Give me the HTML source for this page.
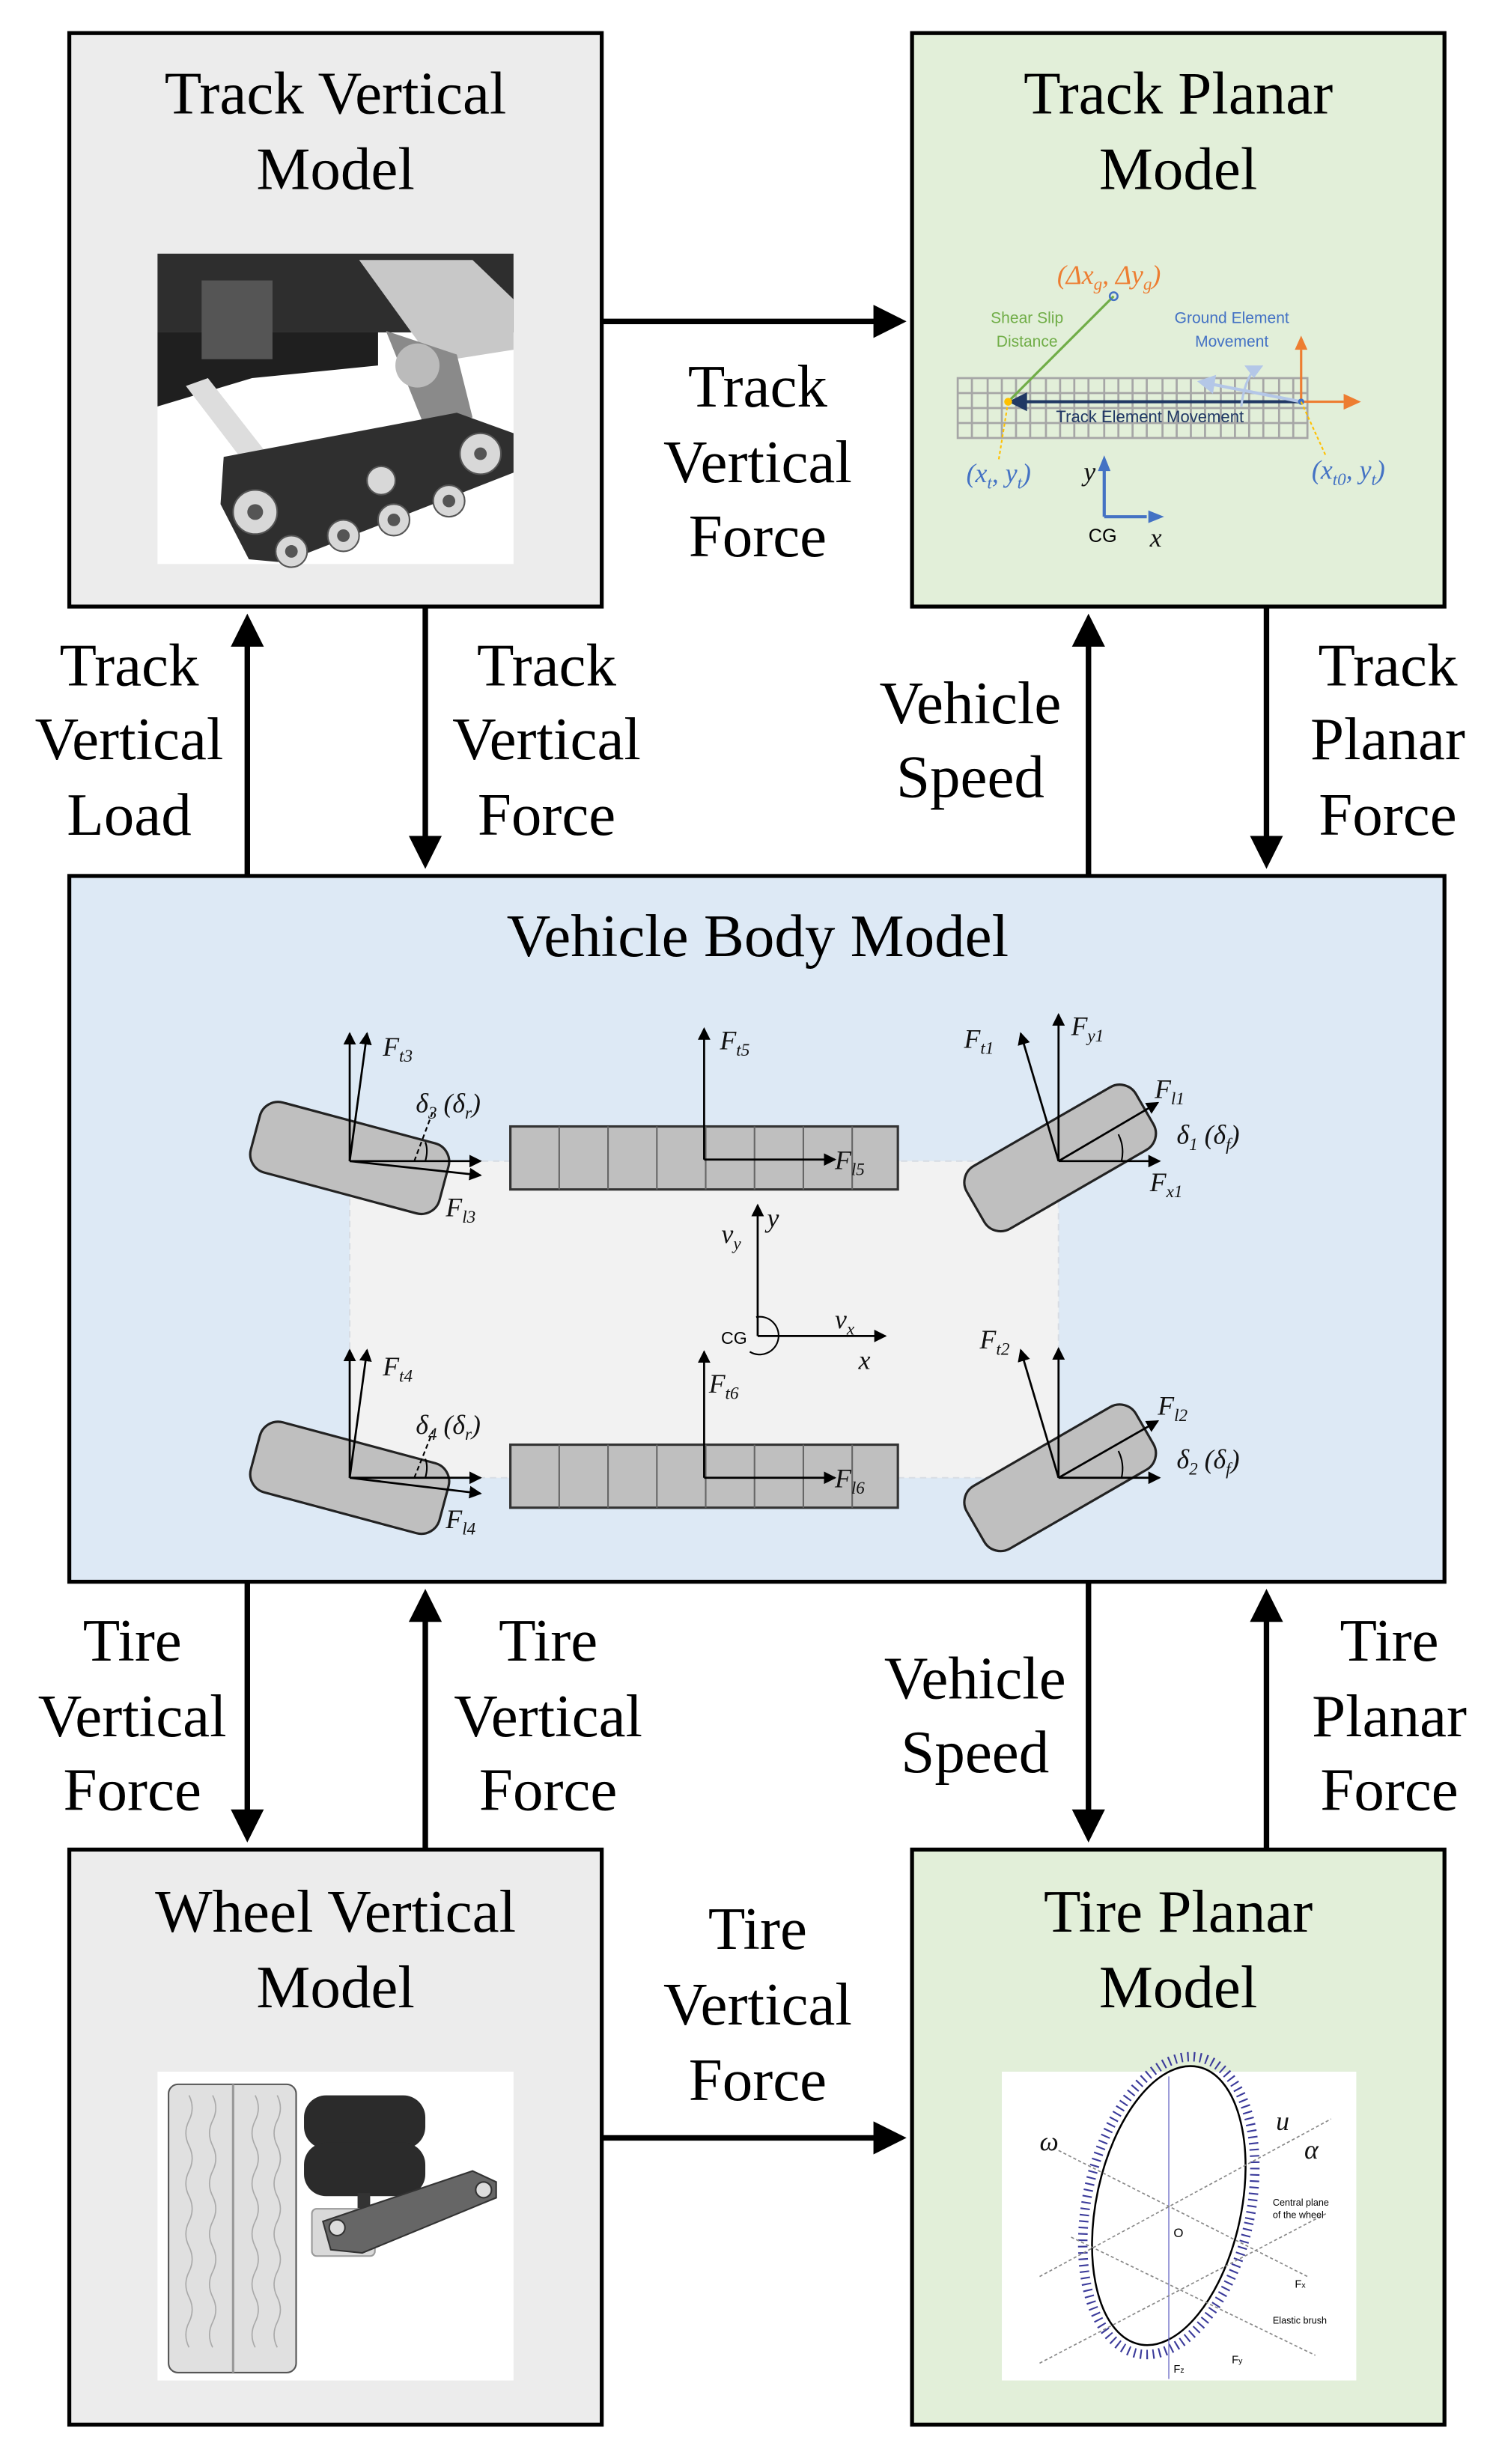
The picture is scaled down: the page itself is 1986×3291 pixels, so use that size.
<!DOCTYPE html>
<html><head><meta charset="utf-8"><style>
html,body{margin:0;padding:0;background:#fff;}
svg{display:block;}
.t{font-family:"Liberation Serif",serif;font-size:38.5px;text-anchor:middle;fill:#000;}
.m{font-family:"Liberation Serif",serif;font-style:italic;font-size:17px;fill:#111;}
.s{font-family:"Liberation Sans",sans-serif;}
</style></head><body>
<svg width="1986" height="3291" viewBox="0 0 944 1564" preserveAspectRatio="none" xmlns="http://www.w3.org/2000/svg">
<defs>
<marker id="ah" markerWidth="6" markerHeight="6" refX="5" refY="3" orient="auto" markerUnits="strokeWidth"><path d="M0,0 L6,3 L0,6 z" fill="#000"/></marker>
<marker id="sa" markerWidth="8" markerHeight="8" refX="7" refY="4" orient="auto" markerUnits="userSpaceOnUse"><path d="M0,0 L8,4 L0,8 z" fill="#000"/></marker>
</defs>
<rect width="944" height="1564" fill="#fff"/>
<rect x="44" y="21" width="338" height="364" fill="#ececec" stroke="#000" stroke-width="2.5"/>
<rect x="579" y="21" width="338" height="364" fill="#e2efd9" stroke="#000" stroke-width="2.5"/>
<rect x="44" y="556" width="873" height="448" fill="#dde9f5" stroke="#000" stroke-width="2.5"/>
<rect x="44" y="1174" width="338" height="365" fill="#ececec" stroke="#000" stroke-width="2.5"/>
<rect x="579" y="1174" width="338" height="365" fill="#e2efd9" stroke="#000" stroke-width="2.5"/>

<text class="t" x="213" y="72">Track Vertical</text><text class="t" x="213" y="120">Model</text>
<text class="t" x="748" y="72">Track Planar</text><text class="t" x="748" y="120">Model</text>
<text class="t" x="481" y="607">Vehicle Body Model</text>
<text class="t" x="213" y="1226">Wheel Vertical</text><text class="t" x="213" y="1274">Model</text>
<text class="t" x="748" y="1226">Tire Planar</text><text class="t" x="748" y="1274">Model</text>

<g stroke="#000" stroke-width="3.5" fill="none" marker-end="url(#ah)">
<line x1="383" y1="204" x2="572" y2="204"/>
<line x1="383" y1="1357" x2="572" y2="1357"/>
<line x1="157" y1="555" x2="157" y2="393"/>
<line x1="270" y1="386" x2="270" y2="548"/>
<line x1="691" y1="555" x2="691" y2="393"/>
<line x1="804" y1="386" x2="804" y2="548"/>
<line x1="157" y1="1005" x2="157" y2="1166"/>
<line x1="270" y1="1173" x2="270" y2="1012"/>
<line x1="691" y1="1005" x2="691" y2="1166"/>
<line x1="804" y1="1173" x2="804" y2="1012"/>
</g>
<g>
<text class="t" x="481" y="258">Track</text><text class="t" x="481" y="306">Vertical</text><text class="t" x="481" y="353">Force</text>
<text class="t" x="82" y="435">Track</text><text class="t" x="82" y="482">Vertical</text><text class="t" x="82" y="530">Load</text>
<text class="t" x="347" y="435">Track</text><text class="t" x="347" y="482">Vertical</text><text class="t" x="347" y="530">Force</text>
<text class="t" x="616" y="459">Vehicle</text><text class="t" x="616" y="506">Speed</text>
<text class="t" x="881" y="435">Track</text><text class="t" x="881" y="482">Planar</text><text class="t" x="881" y="530">Force</text>
<text class="t" x="84" y="1054">Tire</text><text class="t" x="84" y="1102">Vertical</text><text class="t" x="84" y="1149">Force</text>
<text class="t" x="348" y="1054">Tire</text><text class="t" x="348" y="1102">Vertical</text><text class="t" x="348" y="1149">Force</text>
<text class="t" x="619" y="1078">Vehicle</text><text class="t" x="619" y="1125">Speed</text>
<text class="t" x="882" y="1054">Tire</text><text class="t" x="882" y="1102">Planar</text><text class="t" x="882" y="1149">Force</text>
<text class="t" x="481" y="1237">Tire</text><text class="t" x="481" y="1285">Vertical</text><text class="t" x="481" y="1333">Force</text>
</g>

<!-- Track vertical image -->
<rect x="100" y="161" width="226" height="197" fill="#fff"/>
<rect x="100" y="161" width="226" height="50" fill="#2e2e2e"/>
<polygon points="100,211 240,211 240,232 160,240 100,258" fill="#1f1f1f"/>
<rect x="128" y="178" width="45" height="50" fill="#555"/>
<polygon points="228,165 300,165 326,190 326,222 275,230" fill="#c8c8c8"/>
<polygon points="245,210 290,225 300,265 270,272" fill="#8a8a8a"/>
<circle cx="265" cy="232" r="14" fill="#bbb"/>
<polygon points="118,245 132,240 175,295 160,300" fill="#ddd"/>
<polygon points="142,290 290,262 326,275 326,300 180,357 158,355 140,320" fill="#2f2f2f"/>
<g fill="#d8d8d8" stroke="#555" stroke-width="1">
<circle cx="162" cy="325" r="14"/><circle cx="185" cy="350" r="10"/><circle cx="218" cy="340" r="10"/><circle cx="250" cy="330" r="10"/><circle cx="285" cy="318" r="10"/><circle cx="305" cy="288" r="13"/><circle cx="242" cy="305" r="9"/>
</g>
<g fill="#555"><circle cx="162" cy="325" r="5"/><circle cx="185" cy="350" r="4"/><circle cx="218" cy="340" r="4"/><circle cx="250" cy="330" r="4"/><circle cx="285" cy="318" r="4"/><circle cx="305" cy="288" r="4"/></g>

<!-- Track planar diagram -->
<g stroke="#a6a6a6" stroke-width="1.3" fill="none">
<rect x="608" y="240" width="222" height="38"/>
<line x1="608" y1="249.5" x2="830" y2="249.5"/><line x1="608" y1="259" x2="830" y2="259"/><line x1="608" y1="268.5" x2="830" y2="268.5"/>
<path d="M617,240V278M627,240V278M636,240V278M645,240V278M654,240V278M664,240V278M673,240V278M682,240V278M691,240V278M701,240V278M710,240V278M719,240V278M728,240V278M738,240V278M747,240V278M756,240V278M765,240V278M775,240V278M784,240V278M793,240V278M802,240V278M812,240V278M821,240V278"/>
</g>
<line x1="707" y1="188" x2="640" y2="255" stroke="#70ad47" stroke-width="1.5"/>
<circle cx="707" cy="188" r="2.5" fill="none" stroke="#4472c4" stroke-width="1.2"/>
<line x1="826" y1="255" x2="650" y2="255" stroke="#203864" stroke-width="2"/>
<polygon points="640,255 652,249 652,261" fill="#203864"/>
<line x1="826" y1="255" x2="770" y2="244" stroke="#b4c7e7" stroke-width="2"/>
<polygon points="760,242 772,238 770,250" fill="#b4c7e7"/>
<path d="M788,258 Q790,242 796,235" stroke="#b4c7e7" stroke-width="1.5" fill="none"/>
<polygon points="790,232 802,232 796,240" fill="#b4c7e7"/>
<line x1="826" y1="255" x2="826" y2="222" stroke="#ed7d31" stroke-width="1.5"/>
<polygon points="826,213 822,222 830,222" fill="#ed7d31"/>
<line x1="826" y1="255" x2="853" y2="255" stroke="#ed7d31" stroke-width="1.5"/>
<polygon points="864,255 853,250 853,260" fill="#ed7d31"/>
<circle cx="640" cy="255" r="2.5" fill="#ffc000"/><circle cx="826" cy="255" r="2" fill="#4472c4"/>
<line x1="640" y1="255" x2="634" y2="292" stroke="#ffc000" stroke-dasharray="2,1.5"/>
<line x1="826" y1="255" x2="842" y2="290" stroke="#ffc000" stroke-dasharray="2,1.5"/>
<text x="704" y="180" text-anchor="middle" class="m" style="fill:#ed7d31">(Δx<tspan font-size="11" dy="4">g</tspan><tspan dy="-4">, Δy</tspan><tspan font-size="11" dy="4">g</tspan><tspan dy="-4">)</tspan></text>
<text x="652" y="205" text-anchor="middle" class="s" font-size="10" fill="#70ad47">Shear Slip</text>
<text x="652" y="220" text-anchor="middle" class="s" font-size="10" fill="#70ad47">Distance</text>
<text x="782" y="205" text-anchor="middle" class="s" font-size="10" fill="#4472c4">Ground Element</text>
<text x="782" y="220" text-anchor="middle" class="s" font-size="10" fill="#4472c4">Movement</text>
<text x="730" y="268" text-anchor="middle" class="s" font-size="10.5" fill="#203864">Track Element Movement</text>
<text x="634" y="306" text-anchor="middle" class="m" style="fill:#4472c4">(x<tspan font-size="11" dy="4">t</tspan><tspan dy="-4">, y</tspan><tspan font-size="11" dy="4">t</tspan><tspan dy="-4">)</tspan></text>
<text x="856" y="304" text-anchor="middle" class="m" style="fill:#4472c4">(x<tspan font-size="11" dy="4">t0</tspan><tspan dy="-4">, y</tspan><tspan font-size="11" dy="4">t</tspan><tspan dy="-4">)</tspan></text>
<path d="M701,328 V298 M701,328 H728" stroke="#4472c4" stroke-width="2" fill="none"/>
<polygon points="701,289 697,299 705,299" fill="#4472c4"/><polygon points="739,328 729,324 729,332" fill="#4472c4"/>
<text x="688" y="305" class="m">y</text>
<text x="700" y="344" text-anchor="middle" class="s" font-size="12">CG</text>
<text x="730" y="347" class="m">x</text>

<!-- Vehicle body diagram -->
<rect x="222" y="737" width="450" height="201" fill="#f2f2f2" stroke="#d8dde4" stroke-dasharray="4,3"/>
<g fill="#bfbfbf" stroke="#333" stroke-width="1.5">
<rect x="324" y="715" width="246" height="40"/><rect x="324" y="917" width="246" height="40"/>
</g>
<path d="M355,715V755M386,715V755M417,715V755M448,715V755M479,715V755M510,715V755M541,715V755M355,917V957M386,917V957M417,917V957M448,917V957M479,917V957M510,917V957M541,917V957" stroke="#666" stroke-width="1"/>
<g fill="#bfbfbf" stroke="#222" stroke-width="1.5">
<rect x="-62" y="-23" width="124" height="46" rx="12" transform="translate(222,735) rotate(15)"/>
<rect x="-62" y="-23" width="124" height="46" rx="12" transform="translate(222,938) rotate(15)"/>
<rect x="-62" y="-23" width="124" height="46" rx="12" transform="translate(673,735) rotate(-30)"/>
<rect x="-62" y="-23" width="124" height="46" rx="12" transform="translate(673,938) rotate(-30)"/>
</g>
<g stroke="#000" stroke-width="1.3" fill="none" marker-end="url(#sa)">
<line x1="222" y1="737" x2="222" y2="656"/><line x1="222" y1="737" x2="233" y2="656"/>
<line x1="222" y1="737" x2="305" y2="737"/><line x1="222" y1="737" x2="305" y2="746"/>
<line x1="222" y1="938" x2="222" y2="857"/><line x1="222" y1="938" x2="233" y2="857"/>
<line x1="222" y1="938" x2="305" y2="938"/><line x1="222" y1="938" x2="305" y2="948"/>
<line x1="447" y1="736" x2="447" y2="653"/><line x1="447" y1="736" x2="530" y2="736"/>
<line x1="447" y1="938" x2="447" y2="858"/><line x1="447" y1="938" x2="530" y2="938"/>
<line x1="672" y1="737" x2="672" y2="644"/><line x1="672" y1="737" x2="648" y2="656"/>
<line x1="672" y1="737" x2="736" y2="737"/><line x1="672" y1="737" x2="735" y2="700"/>
<line x1="672" y1="938" x2="672" y2="856"/><line x1="672" y1="938" x2="648" y2="857"/>
<line x1="672" y1="938" x2="736" y2="938"/><line x1="672" y1="938" x2="735" y2="902"/>
<line x1="481" y1="848" x2="481" y2="765"/><line x1="481" y1="848" x2="562" y2="848"/>
</g>
<g stroke="#000" stroke-width="1" fill="none">
<path d="M270,737 Q272,730 270,725"/><path d="M270,938 Q272,931 270,926"/>
<path d="M712,737 Q714,728 710,720"/><path d="M712,938 Q714,929 710,921"/>
<line x1="263" y1="737" x2="275" y2="705" stroke-dasharray="3,2"/>
<line x1="263" y1="938" x2="275" y2="908" stroke-dasharray="3,2"/>
<path d="M480,836 A12,12 0 1 1 476,858"/>
</g>
<g class="m">
<text x="243" y="670">F<tspan font-size="11" dy="4">t3</tspan></text>
<text x="283" y="772">F<tspan font-size="11" dy="4">l3</tspan></text>
<text x="264" y="706">δ<tspan font-size="11" dy="4">3</tspan><tspan dy="-4"> (δ</tspan><tspan font-size="11" dy="4">r</tspan><tspan dy="-4">)</tspan></text>
<text x="457" y="666">F<tspan font-size="11" dy="4">t5</tspan></text>
<text x="530" y="742">F<tspan font-size="11" dy="4">l5</tspan></text>
<text x="612" y="665">F<tspan font-size="11" dy="4">t1</tspan></text>
<text x="680" y="657">F<tspan font-size="11" dy="4">y1</tspan></text>
<text x="733" y="697">F<tspan font-size="11" dy="4">l1</tspan></text>
<text x="747" y="726">δ<tspan font-size="11" dy="4">1</tspan><tspan dy="-4"> (δ</tspan><tspan font-size="11" dy="4">f</tspan><tspan dy="-4">)</tspan></text>
<text x="730" y="756">F<tspan font-size="11" dy="4">x1</tspan></text>
<text x="487" y="779">y</text>
<text x="458" y="789">v<tspan font-size="11" dy="4">y</tspan></text>
<text x="530" y="843">v<tspan font-size="11" dy="4">x</tspan></text>
<text x="545" y="869">x</text>
<text x="243" y="873">F<tspan font-size="11" dy="4">t4</tspan></text>
<text x="264" y="910">δ<tspan font-size="11" dy="4">4</tspan><tspan dy="-4"> (δ</tspan><tspan font-size="11" dy="4">r</tspan><tspan dy="-4">)</tspan></text>
<text x="283" y="970">F<tspan font-size="11" dy="4">l4</tspan></text>
<text x="450" y="884">F<tspan font-size="11" dy="4">t6</tspan></text>
<text x="530" y="944">F<tspan font-size="11" dy="4">l6</tspan></text>
<text x="622" y="856">F<tspan font-size="11" dy="4">t2</tspan></text>
<text x="735" y="898">F<tspan font-size="11" dy="4">l2</tspan></text>
<text x="747" y="932">δ<tspan font-size="11" dy="4">2</tspan><tspan dy="-4"> (δ</tspan><tspan font-size="11" dy="4">f</tspan><tspan dy="-4">)</tspan></text>
</g>
<text x="466" y="853" text-anchor="middle" class="s" font-size="11">CG</text>

<!-- Wheel vertical image -->
<rect x="100" y="1315" width="226" height="196" fill="#fff"/>
<rect x="107" y="1323" width="81" height="183" rx="6" fill="#e0e0e0" stroke="#555" stroke-width="1"/>
<line x1="148" y1="1323" x2="148" y2="1506" stroke="#999" stroke-width="1.5"/>
<path d="M120,1330 q4,8 0,16 q-4,8 0,16 q4,8 0,16 q-4,8 0,16 q4,8 0,16 q-4,8 0,16 q4,8 0,16 q-4,8 0,16 q4,8 0,16 q-4,8 0,16 M135,1330 q4,8 0,16 q-4,8 0,16 q4,8 0,16 q-4,8 0,16 q4,8 0,16 q-4,8 0,16 q4,8 0,16 q-4,8 0,16 q4,8 0,16 q-4,8 0,16 M162,1330 q4,8 0,16 q-4,8 0,16 q4,8 0,16 q-4,8 0,16 q4,8 0,16 q-4,8 0,16 q4,8 0,16 q-4,8 0,16 q4,8 0,16 q-4,8 0,16 M176,1330 q4,8 0,16 q-4,8 0,16 q4,8 0,16 q-4,8 0,16 q4,8 0,16 q-4,8 0,16 q4,8 0,16 q-4,8 0,16 q4,8 0,16 q-4,8 0,16" stroke="#aaa" stroke-width="0.8" fill="none"/>
<rect x="193" y="1330" width="77" height="34" rx="14" fill="#2b2b2b"/>
<rect x="193" y="1360" width="77" height="34" rx="14" fill="#2b2b2b"/>
<rect x="227" y="1392" width="8" height="14" fill="#333"/>
<rect x="198" y="1402" width="40" height="30" rx="3" fill="#d9d9d9" stroke="#999"/>
<polygon points="205,1410 300,1378 315,1385 315,1395 230,1430 210,1428" fill="#666" stroke="#333"/>
<circle cx="214" cy="1414" r="5" fill="#ddd" stroke="#333"/><circle cx="307" cy="1390" r="5" fill="#ddd" stroke="#333"/>

<!-- Tire planar image -->
<rect x="636" y="1315" width="225" height="196" fill="#fff"/>
<g transform="translate(742,1400) rotate(12)">
<ellipse cx="0" cy="0" rx="46" ry="90" fill="#fff" stroke="#000" stroke-width="1.2"/>
<ellipse cx="0" cy="0" rx="52" ry="96" fill="none" stroke="#3a3a9a" stroke-width="6" stroke-dasharray="1,3"/>
</g>
<line x1="742" y1="1318" x2="742" y2="1510" stroke="#6060c0" stroke-width="0.6"/>
<g stroke="#888" stroke-width="0.8" stroke-dasharray="2,1.5">
<line x1="660" y1="1445" x2="845" y2="1345"/><line x1="672" y1="1365" x2="830" y2="1445"/>
<line x1="660" y1="1500" x2="842" y2="1405"/><line x1="680" y1="1420" x2="835" y2="1495"/>
</g>
<text x="660" y="1365" class="m" font-size="10">ω</text>
<text x="810" y="1352" class="m" font-size="9">u</text>
<text x="828" y="1370" class="m" font-size="9">α</text>
<text x="745" y="1420" class="s" font-size="8">O</text>
<text x="808" y="1400" class="s" font-size="6">Central plane</text>
<text x="808" y="1408" class="s" font-size="6">of the wheel</text>
<text x="808" y="1475" class="s" font-size="6">Elastic brush</text>
<text x="822" y="1452" class="s" font-size="7">F<tspan font-size="5">x</tspan></text>
<text x="782" y="1500" class="s" font-size="7">F<tspan font-size="5">y</tspan></text>
<text x="745" y="1506" class="s" font-size="7">F<tspan font-size="5">z</tspan></text>
</svg>
</body></html>
